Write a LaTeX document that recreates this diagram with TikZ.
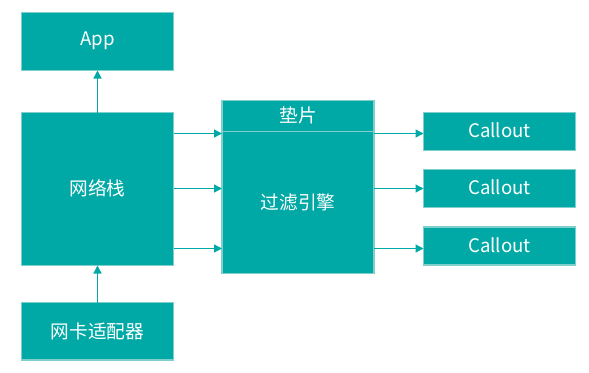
\documentclass[tikz,border=0pt]{standalone}
\usepackage{fontspec}
\setmainfont{Noto Sans CJK SC}
\usetikzlibrary{arrows.meta}
\definecolor{teal1}{HTML}{00A9A5}
\definecolor{edge1}{HTML}{7FD0CD}
\begin{document}
\begin{tikzpicture}[x=0.75pt,y=-0.75pt,
  box/.style={draw=edge1,fill=teal1,line width=0.8pt},
  lbl/.style={text=white,font=\fontsize{14}{16}\selectfont},
  arr/.style={draw=teal1,line width=1pt,-{Triangle[length=6pt,width=6pt]}}]
\useasboundingbox (0,0) rectangle (589,372);
% boxes
\path[box] (21.5,12.5) rectangle (173.5,70.5);
\node[lbl] (app) at (97.5,40.5) {App};
\path[box] (21.5,112.5) rectangle (173.5,265.5);
\node[lbl] (stack) at (97.5,188.5) {网络栈};
\path[box] (21.5,302.5) rectangle (173.5,360);
\node[lbl] (nic) at (97.5,331) {网卡适配器};
\path[box] (222,100.5) rectangle (374,273.5);
\draw[edge1,line width=0.8pt] (222,131.5) -- (374,131.5);
\node[lbl] (shim) at (298,115.5) {垫片};
\node[lbl] (engine) at (298,202) {过滤引擎};
\path[box] (423.5,112.5) rectangle (575.5,150.5);
\node[lbl] (c1) at (499.5,130.5) {Callout};
\path[box] (423.5,169.5) rectangle (575.5,207.5);
\node[lbl] (c2) at (499.5,187.5) {Callout};
\path[box] (423.5,227) rectangle (575.5,265);
\node[lbl] (c3) at (499.5,245.5) {Callout};
% anchor coordinates
\coordinate (s1) at (173.5,133.5); \coordinate (e1) at (222,133.5);
\coordinate (s2) at (173.5,188.5); \coordinate (e2) at (222,188.5);
\coordinate (s3) at (173.5,248.5); \coordinate (e3) at (222,248.5);
\coordinate (f1) at (374,133.5); \coordinate (g1) at (423.5,133.5);
\coordinate (f2) at (374,188.5); \coordinate (g2) at (423.5,188.5);
\coordinate (f3) at (374,248.5); \coordinate (g3) at (423.5,248.5);
\coordinate (stop) at (97.5,112.5); \coordinate (abot) at (97.5,70.5);
\coordinate (ntop) at (97.5,302.5); \coordinate (sbot) at (97.5,265.5);
% arrows
\draw[arr] (stop) -- (abot);
\draw[arr] (ntop) -- (sbot);
\draw[arr] (s1) -- (e1);
\draw[arr] (s2) -- (e2);
\draw[arr] (s3) -- (e3);
\draw[arr] (f1) -- (g1);
\draw[arr] (f2) -- (g2);
\draw[arr] (f3) -- (g3);
\end{tikzpicture}
\end{document}
